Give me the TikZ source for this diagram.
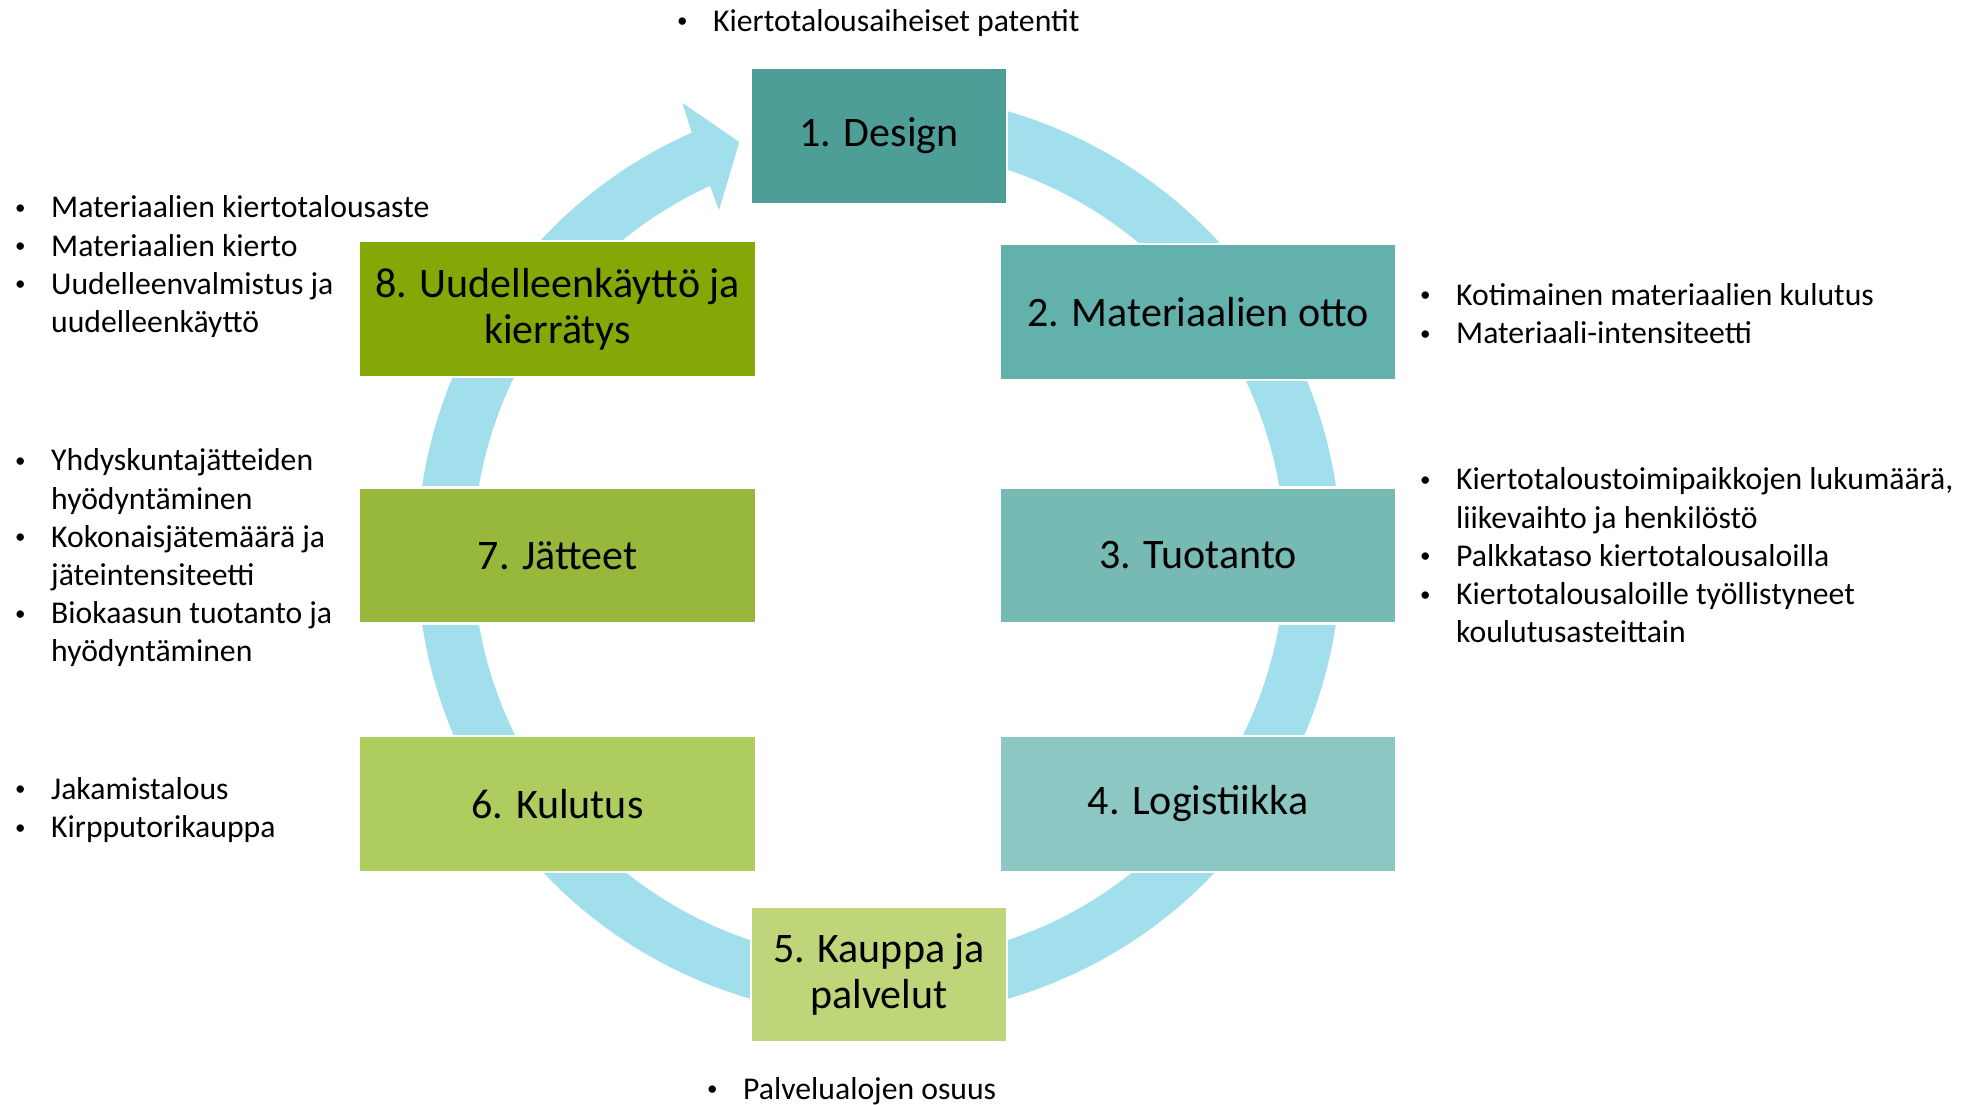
\documentclass[tikz,border=0pt]{standalone}
\usepackage{fontspec}
\setmainfont{Carlito}
\definecolor{cA}{RGB}{78,158,152}
\definecolor{cB}{RGB}{98,177,172}
\definecolor{cC}{RGB}{119,186,179}
\definecolor{cD}{RGB}{141,199,195}
\definecolor{cE}{RGB}{190,213,122}
\definecolor{cF}{RGB}{175,204,94}
\definecolor{cG}{RGB}{151,184,58}
\definecolor{cH}{RGB}{132,168,5}
\definecolor{ringc}{RGB}{160,223,235}
\newcommand\lbul{\makebox[39pt][l]{\hspace*{3pt}\raisebox{3.5pt}{\fontsize{21}{21}\selectfont •}}}
\newcommand\lind{\hspace*{39pt}}
\begin{document}
\begin{tikzpicture}[x=1pt,y=-1pt,
  box/.style={draw=white, line width=2.5pt, minimum height=136pt, inner sep=0pt,
    align=center, font=\fontsize{42}{46}\selectfont, text=black},
  wide/.style={box, minimum width=397pt},
  narrow/.style={box, minimum width=256pt},
  list/.style={anchor=north west, inner sep=0pt, align=left,
    font=\fontsize{31.7}{38.2}\selectfont, text=black},
]
\useasboundingbox[fill=white] (0,0) rectangle (1966,1105);
% ring with arrow head
\begin{scope}[shift={(879,555)}]
\fill[ringc] (-114.6:406) -- (-114.9:380) -- (-108.7:436) -- (-113.5:493) -- (-113.9:462)
  arc[start angle=-113.9, end angle=-450, radius=462] -- (-450:406)
  arc[start angle=-450, end angle=-114.6, radius=406] -- cycle;
\end{scope}
% boxes
\node[narrow, fill=cA] (b1) at (879,136) {1. Design};
\node[wide, fill=cB] (b2) at (1198,312) {2. Materiaalien otto};
\node[wide, fill=cC] (b3) at (1198,555.5) {3. Tuotanto};
\node[wide, fill=cD] (b4) at (1198,804) {4. Logistiikka};
\node[narrow, fill=cE] (b5) at (879,974.5) {5. Kauppa ja\\palvelut};
\node[wide, fill=cF] (b6) at (557.5,804) {6. Kulutus};
\node[wide, fill=cG] (b7) at (557.5,555.5) {7. Jätteet};
\node[wide, fill=cH] (b8) at (557.5,309) {8. Uudelleenkäyttö ja\\kierrätys};
% lists
\node[list] (l1) at (674,4.5) {\strut\lbul Kiertotalousaiheiset patentit};
\node[list] (l8) at (12,191) {\strut\lbul Materiaalien kiertotalousaste\\
  \lbul Materiaalien kierto\\
  \lbul Uudelleenvalmistus ja\\
  \lind uudelleenkäyttö};
\node[list] (l2) at (1417,278.5) {\strut\lbul Kotimainen materiaalien kulutus\\
  \lbul Materiaali-intensiteetti};
\node[list] (l7) at (12,444) {\strut\lbul Yhdyskuntajätteiden\\
  \lind hyödyntäminen\\
  \lbul Kokonaisjätemäärä ja\\
  \lind jäteintensiteetti\\
  \lbul Biokaasun tuotanto ja\\
  \lind hyödyntäminen};
\node[list] (l3) at (1417,463) {\strut\lbul Kiertotaloustoimipaikkojen lukumäärä,\\
  \lind liikevaihto ja henkilöstö\\
  \lbul Palkkataso kiertotalousaloilla\\
  \lbul Kiertotalousaloille työllistyneet\\
  \lind koulutusasteittain};
\node[list] (l6) at (12,772.5) {\strut\lbul Jakamistalous\\
  \lbul Kirpputorikauppa};
\node[list] (l5) at (704,1072.5) {\strut\lbul Palvelualojen osuus};
\end{tikzpicture}
\end{document}
